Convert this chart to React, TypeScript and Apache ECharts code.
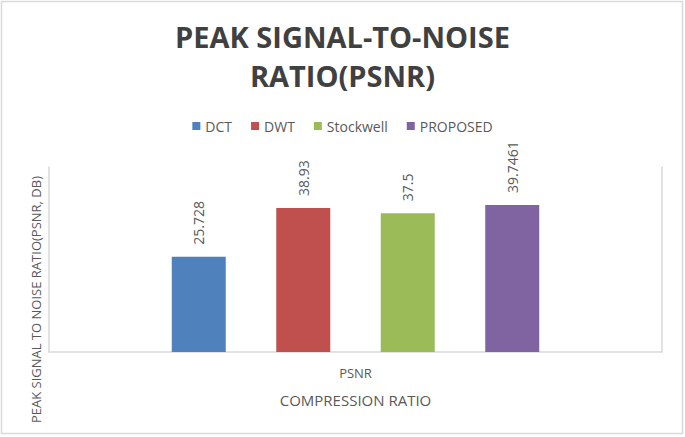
import React, { useEffect, useRef } from "react";
import * as echarts from "echarts";

const categories = ["PSNR"];
const seriesNames = ["DCT", "DWT", "Stockwell", "PROPOSED"];
const dctValues = [25.728];
const dwtValues = [38.93];
const stockwellValues = [37.5];
const proposedValues = [39.7461];
const seriesColors = ["#4F81BD", "#C0504D", "#9BBB59", "#8064A2"];
const titleText = "PEAK SIGNAL-TO-NOISE\nRATIO(PSNR)";
const yAxisTitle = "PEAK SIGNAL TO NOISE RATIO(PSNR, DB)";
const xAxisTitle = "COMPRESSION RATIO";

export default function App() {
  const ref = useRef<HTMLDivElement>(null);
  useEffect(() => {
    if (!ref.current) return;
    const chart = echarts.init(ref.current, null, { renderer: "svg" });
    const allValues = [dctValues, dwtValues, stockwellValues, proposedValues];
    const font = "'Open Sans', sans-serif";
    const series = seriesNames.map((name, i) => ({
      name,
      type: "bar",
      data: allValues[i],
      barWidth: 54,
      barGap: "93.5%",
      itemStyle: { color: seriesColors[i] },
      label: {
        show: true,
        position: "top",
        rotate: 90,
        align: "left",
        verticalAlign: "middle",
        distance: 12,
        fontSize: 14,
        fontFamily: font,
        color: "#595959",
        formatter: (p: any) => String(p.value),
      },
    }));
    chart.setOption({
      animation: false,
      backgroundColor: "#ffffff",
      title: {
        text: titleText,
        left: "center",
        top: 12,
        textStyle: {
          fontFamily: font,
          fontWeight: "bold",
          fontSize: 29,
          lineHeight: 39,
          color: "#404040",
        },
      },
      legend: {
        data: seriesNames,
        top: 114,
        left: "center",
        itemWidth: 8,
        itemHeight: 8,
        itemGap: 19,
        icon: "rect",
        textStyle: { fontFamily: font, fontSize: 14, color: "#595959" },
      },
      grid: { left: 49, right: 23, top: 167, bottom: 85, containLabel: false },
      xAxis: {
        type: "category",
        data: categories,
        axisLine: { show: true, lineStyle: { color: "#d9d9d9", width: 1.5 } },
        axisTick: { show: false },
        axisLabel: { color: "#595959", fontSize: 13, fontFamily: font, margin: 14 },
        name: xAxisTitle,
        nameLocation: "middle",
        nameGap: 40,
        nameTextStyle: { fontFamily: font, fontSize: 15, color: "#595959" },
      },
      yAxis: [
        {
          type: "value",
          min: 0,
          max: 50,
          position: "left",
          axisLine: { show: true, lineStyle: { color: "#d9d9d9", width: 1.5 } },
          axisTick: { show: false },
          axisLabel: { show: false },
          splitLine: { show: false },
        },
        {
          type: "value",
          min: 0,
          max: 50,
          position: "right",
          axisLine: { show: true, lineStyle: { color: "#d9d9d9", width: 1.5 } },
          axisTick: { show: false },
          axisLabel: { show: false },
          splitLine: { show: false },
        },
      ],
      series,
      graphic: [
        {
          type: "text",
          x: 36,
          y: 176,
          rotation: Math.PI / 2,
          z: 10,
          style: {
            text: yAxisTitle,
            fontFamily: font,
            fontSize: 13,
            fill: "#595959",
            align: "right",
            verticalAlign: "middle",
          },
        },
        {
          type: "rect",
          z: 30,
          shape: { x: 1.5, y: 1.5, width: 681, height: 432 },
          style: { fill: "none", stroke: "#d9d9d9", lineWidth: 1.5 },
        },
      ],
    });
    return () => chart.dispose();
  }, []);
  return <div ref={ref} style={{ width: 685, height: 437, position: "absolute", left: 0, top: 0 }} />;
}
